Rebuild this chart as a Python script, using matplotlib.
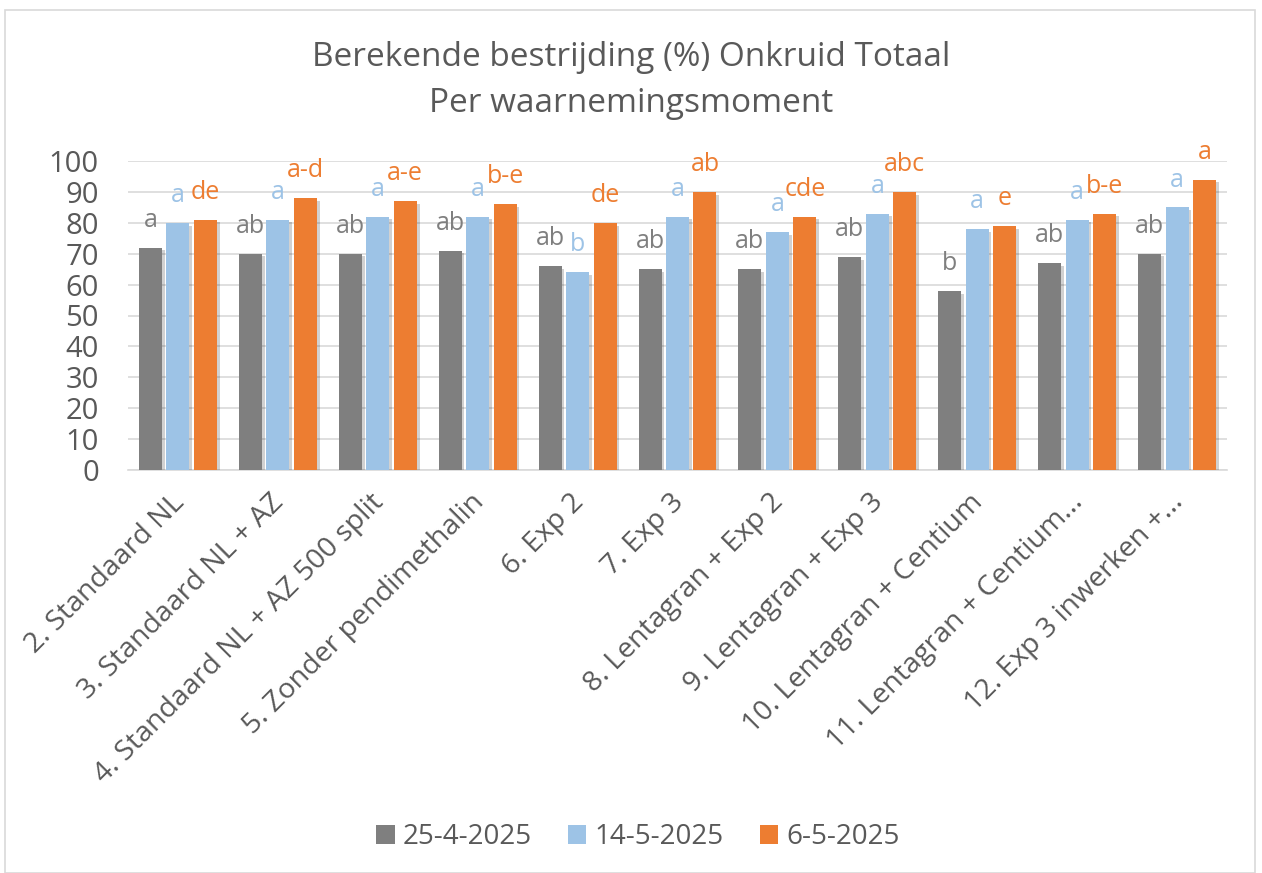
import numpy as np
import matplotlib
matplotlib.use("Agg")
import matplotlib.pyplot as plt
import matplotlib.patheffects as pe
from matplotlib.patches import Patch
from matplotlib.transforms import ScaledTranslation

plt.rcParams['font.family'] = ['Open Sans', 'DejaVu Sans']

# data
behandelingen = ["2. Standaard NL", "3. Standaard NL + AZ", "4. Standaard NL + AZ 500 split",
                 "5. Zonder pendimethalin", "6. Exp 2", "7. Exp 3", "8. Lentagran + Exp 2",
                 "9. Lentagran + Exp 3", "10. Lentagran + Centium", "11. Lentagran + Centium...",
                 "12. Exp 3 inwerken +..."]
reeksen = ["25-4-2025", "14-5-2025", "6-5-2025"]
w_25_4 = [72, 70, 70, 71, 66, 65, 65, 69, 58, 67, 70]
w_14_5 = [80, 81, 82, 82, 64, 82, 77, 83, 78, 81, 85]
w_6_5 = [81, 88, 87, 86, 80, 90, 82, 90, 79, 83, 94]
lt_25_4 = ["a", "ab", "ab", "ab", "ab", "ab", "ab", "ab", "b", "ab", "ab"]
lt_14_5 = ["a", "a", "a", "a", "b", "a", "a", "a", "a", "a", "a"]
lt_6_5 = ["de", "a-d", "a-e", "b-e", "de", "ab", "cde", "abc", "e", "b-e", "a"]

kleuren = ["#7F7F7F", "#9DC3E6", "#ED7D31"]
tekst = "#595959"

fig = plt.figure(figsize=(12.62, 8.73), dpi=100)
ax = fig.add_axes([128 / 1262, 1 - 470 / 873, (1227 - 128) / 1262, (470 - 161) / 873])

x = np.arange(len(behandelingen))
bw = 0.23
schaduw = [pe.SimplePatchShadow(offset=(2, -2), shadow_rgbFace="#000000", alpha=0.18), pe.Normal()]

for i, (vals, lts) in enumerate(zip([w_25_4, w_14_5, w_6_5], [lt_25_4, lt_14_5, lt_6_5])):
    pos = x + (i - 1) * 0.275
    bars = ax.bar(pos, vals, bw, color=kleuren[i], zorder=3)
    for b in bars:
        b.set_path_effects(schaduw)
    for p, v, t in zip(pos, vals, lts):
        ax.annotate(t, (p, v), xytext=(0, 15), textcoords="offset points",
                    ha="center", va="baseline", color=kleuren[i], fontsize=18, zorder=4)

ax.set_ylim(0, 100)
ax.set_xlim(-0.5, len(behandelingen) - 0.5)
ax.set_yticks(range(0, 101, 10))
ax.yaxis.grid(True, color="#D9D9D9", linewidth=1.2, zorder=0)
for s in ["top", "right", "left"]:
    ax.spines[s].set_visible(False)
ax.spines["bottom"].set_color("#D9D9D9")
ax.spines["bottom"].set_linewidth(1.2)
ax.tick_params(axis="both", length=0, colors=tekst)
ax.tick_params(axis="y", pad=21, labelsize=21)
ax.tick_params(axis="x", pad=24, labelsize=20.5)
ax.set_xticks(x)
ax.set_xticklabels(behandelingen, rotation=45, ha="right", va="baseline", rotation_mode="anchor")
for lbl in ax.get_xticklabels():
    lbl.set_transform(lbl.get_transform() + ScaledTranslation(5 / 72, 0, fig.dpi_scale_trans))

fig.text(0.5, 1 - 57 / 873, "Berekende bestrijding (%) Onkruid Totaal", ha="center", va="center",
         fontsize=24, color=tekst)
fig.text(0.5, 1 - 103 / 873, "Per waarnemingsmoment", ha="center", va="center",
         fontsize=24, color=tekst)

handles = [Patch(facecolor=k, edgecolor="none") for k in kleuren]
fig.legend(handles, reeksen, loc="center", bbox_to_anchor=(638 / 1262, 1 - 837 / 873), ncol=3,
           frameon=False, fontsize=20, labelcolor=tekst, handlelength=0.65, handleheight=0.65,
           handletextpad=0.3, columnspacing=1.3)

rand = plt.Rectangle((5 / 1262, 0), 1250 / 1262, 1 - 10 / 873, transform=fig.transFigure,
                     fill=False, edgecolor="#D9D9D9", linewidth=1.2)
fig.patches.append(rand)

fig.savefig("out.png", dpi=100)
